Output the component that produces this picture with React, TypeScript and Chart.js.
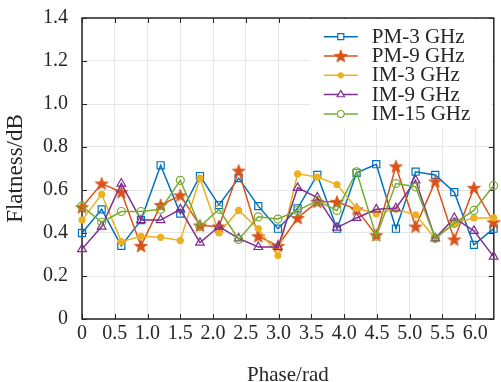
import { useEffect, useRef } from 'react';
import { Chart, registerables } from 'chart.js';
import { drawPoint } from 'chart.js/helpers';

Chart.register(...registerables);

// Phase samples in rad, 22 points over one period
const phase = [0, 0.3, 0.6, 0.9, 1.2, 1.5, 1.8, 2.09, 2.39, 2.69, 2.99, 3.29, 3.59, 3.89, 4.19, 4.49, 4.79, 5.09, 5.39, 5.68, 5.98, 6.28];

// Flatness in dB for each modulation / frequency
const pm3GHz = [0.40, 0.51, 0.34, 0.46, 0.715, 0.49, 0.665, 0.53, 0.655, 0.525, 0.42, 0.515, 0.67, 0.42, 0.68, 0.72, 0.42, 0.685, 0.67, 0.59, 0.345, 0.42];
const pm9GHz = [0.52, 0.63, 0.59, 0.34, 0.53, 0.575, 0.435, 0.43, 0.69, 0.385, 0.34, 0.47, 0.545, 0.545, 0.51, 0.39, 0.71, 0.43, 0.64, 0.37, 0.61, 0.45];
const im3GHz = [0.46, 0.58, 0.36, 0.385, 0.38, 0.365, 0.655, 0.40, 0.505, 0.42, 0.295, 0.675, 0.66, 0.625, 0.515, 0.49, 0.51, 0.485, 0.375, 0.445, 0.47, 0.47];
const im9GHz = [0.325, 0.43, 0.63, 0.46, 0.46, 0.51, 0.355, 0.43, 0.375, 0.335, 0.335, 0.61, 0.565, 0.425, 0.47, 0.51, 0.515, 0.645, 0.375, 0.47, 0.41, 0.29];
const im15GHz = [0.525, 0.45, 0.50, 0.50, 0.51, 0.645, 0.43, 0.51, 0.37, 0.475, 0.465, 0.505, 0.55, 0.505, 0.685, 0.385, 0.63, 0.615, 0.375, 0.445, 0.505, 0.62];

const seriesNames = ['PM-3 GHz', 'PM-9 GHz', 'IM-3 GHz', 'IM-9 GHz', 'IM-15 GHz'];

const xTickValues = [0, 0.5, 1.0, 1.5, 2.0, 2.5, 3.0, 3.5, 4.0, 4.5, 5.0, 5.5, 6.0];
const yTickValues = [0, 0.2, 0.4, 0.6, 0.8, 1.0, 1.2, 1.4];

const X_MAX = 6.2832;
const Y_MAX = 1.4;

const SERIF = '"Liberation Serif", "Times New Roman", Times, serif';
const INK = '#262626';

function starImage(color: string, outer: number, inner: number) {
  const size = 16;
  const c = document.createElement('canvas');
  c.width = size;
  c.height = size;
  const g = c.getContext('2d')!;
  const cx = size / 2;
  const cy = size / 2 + 0.6;
  g.beginPath();
  for (let i = 0; i < 10; i++) {
    const r = i % 2 === 0 ? outer : inner;
    const a = -Math.PI / 2 + (i * Math.PI) / 5;
    const px = cx + r * Math.cos(a);
    const py = cy + r * Math.sin(a);
    if (i === 0) g.moveTo(px, py);
    else g.lineTo(px, py);
  }
  g.closePath();
  g.fillStyle = color;
  g.fill();
  g.strokeStyle = color;
  g.lineWidth = 0.8;
  g.stroke();
  return c;
}

type Marker = { style: any; radius: number; fill: boolean };

function buildSeries() {
  const colors = ['#0072BD', '#D95319', '#EDB120', '#7E2F8E', '#77AC30'];
  const values = [pm3GHz, pm9GHz, im3GHz, im9GHz, im15GHz];
  const markers: Marker[] = [
    { style: 'rect', radius: 5, fill: false },
    { style: starImage(colors[1], 6.8, 2.8), radius: 6, fill: true },
    { style: 'circle', radius: 3, fill: true },
    { style: 'triangle', radius: 5, fill: false },
    { style: 'circle', radius: 4, fill: false },
  ];
  return seriesNames.map((name, i) => ({ name, color: colors[i], values: values[i], marker: markers[i] }));
}

export default function App() {
  const ref = useRef<HTMLCanvasElement>(null);

  useEffect(() => {
    const series = buildSeries();

    // Box around the plot with inward ticks on all four sides
    const framePlugin = {
      id: 'frameBox',
      beforeDatasetsDraw(chart: any) {
        const { ctx, chartArea: a, scales } = chart;
        const len = 5;
        ctx.save();
        ctx.strokeStyle = INK;
        ctx.lineWidth = 1;
        ctx.beginPath();
        for (const v of xTickValues) {
          const px = Math.round(scales.x.getPixelForValue(v)) + 0.5;
          ctx.moveTo(px, a.bottom);
          ctx.lineTo(px, a.bottom - len);
          ctx.moveTo(px, a.top);
          ctx.lineTo(px, a.top + len);
        }
        for (const v of yTickValues) {
          const py = Math.round(scales.y.getPixelForValue(v)) + 0.5;
          ctx.moveTo(a.left, py);
          ctx.lineTo(a.left + len, py);
          ctx.moveTo(a.right, py);
          ctx.lineTo(a.right - len, py);
        }
        ctx.stroke();
        ctx.lineWidth = 1.5;
        ctx.strokeRect(a.left, a.top, a.right - a.left, a.bottom - a.top);
        ctx.restore();
      },
    };

    // Legend with line sample and marker, boxed in the upper right corner
    const legendPlugin = {
      id: 'lineLegend',
      afterDatasetsDraw(chart: any) {
        const { ctx, chartArea: a } = chart;
        const boxL = a.right - 184;
        const boxT = a.top + 1;
        const boxR = a.right - 1;
        const boxB = a.top + 110;
        ctx.save();
        ctx.fillStyle = '#ffffff';
        ctx.fillRect(boxL, boxT, boxR - boxL, boxB - boxT);
        ctx.font = `21px ${SERIF}`;
        ctx.textBaseline = 'middle';
        ctx.textAlign = 'left';
        series.forEach((s, i) => {
          const y = a.top + 18.7 + i * 19.3;
          const x0 = boxL + 14;
          const x1 = boxL + 48;
          ctx.strokeStyle = s.color;
          ctx.lineWidth = 1.5;
          ctx.beginPath();
          ctx.moveTo(x0, y);
          ctx.lineTo(x1, y);
          ctx.stroke();
          ctx.fillStyle = s.marker.fill ? s.color : '#ffffff';
          ctx.strokeStyle = s.color;
          ctx.lineWidth = 1.2;
          drawPoint(ctx, { pointStyle: s.marker.style, radius: s.marker.radius * 0.85, rotation: 0, borderWidth: 1.2 } as any, (x0 + x1) / 2, y);
          ctx.fillStyle = INK;
          ctx.fillText(s.name, boxL + 62, y + 0.5);
        });
        ctx.restore();
      },
    };

    const chart = new Chart(ref.current!, {
      type: 'line',
      data: {
        datasets: series.map((s, i) => ({
          label: s.name,
          data: phase.map((x, k) => ({ x, y: s.values[k] })),
          borderColor: s.color,
          backgroundColor: s.color,
          borderWidth: 1.5,
          pointStyle: s.marker.style,
          pointRadius: s.marker.radius,
          pointBorderWidth: 1.2,
          pointBorderColor: s.color,
          pointBackgroundColor: s.marker.fill ? s.color : 'rgba(0,0,0,0)',
          tension: 0,
          clip: false as any,
          order: series.length - i,
        })),
      },
      options: {
        responsive: false,
        animation: false,
        events: [],
        layout: { padding: { left: 0, right: 4, top: 18, bottom: 0 } },
        plugins: {
          legend: { display: false },
          tooltip: { enabled: false },
        },
        scales: {
          x: {
            type: 'linear',
            min: 0,
            max: X_MAX,
            afterBuildTicks: (scale: any) => {
              scale.ticks = xTickValues.map((value) => ({ value }));
            },
            afterFit: (scale: any) => {
              scale.height = 63;
              scale.paddingLeft = 0;
              scale.paddingRight = 0;
              scale.paddingTop = 0;
              scale.paddingBottom = 0;
            },
            ticks: {
              autoSkip: false,
              maxRotation: 0,
              minRotation: 0,
              padding: 3,
              color: INK,
              font: { family: SERIF, size: 20 },
              callback: (v: any) => (Number(v) === 0 ? '0' : Number(v).toFixed(1)),
            },
            grid: { color: '#e6e6e6', lineWidth: 1, drawTicks: false },
            border: { display: false },
            title: {
              display: true,
              text: 'Phase/rad',
              color: INK,
              font: { family: SERIF, size: 21 },
              padding: { top: 0, bottom: -6 },
            },
          },
          y: {
            type: 'linear',
            min: 0,
            max: Y_MAX,
            afterBuildTicks: (scale: any) => {
              scale.ticks = yTickValues.map((value) => ({ value }));
            },
            afterFit: (scale: any) => {
              scale.width = 82;
              scale.paddingLeft = 0;
              scale.paddingRight = 0;
              scale.paddingTop = 0;
              scale.paddingBottom = 0;
            },
            ticks: {
              padding: 14,
              color: INK,
              font: { family: SERIF, size: 20 },
              callback: (v: any) => (Number(v) === 0 ? '0' : Number(v).toFixed(1)),
            },
            grid: { color: '#e6e6e6', lineWidth: 1, drawTicks: false },
            border: { display: false },
            title: {
              display: true,
              text: 'Flatness/dB',
              color: INK,
              font: { family: SERIF, size: 23 },
              padding: { top: 2, bottom: 0 },
            },
          },
        },
      },
      plugins: [framePlugin, legendPlugin],
    } as any);

    return () => chart.destroy();
  }, []);

  return (
    <div style={{ position: 'absolute', left: 0, top: 0, width: 501, height: 382, background: '#ffffff' }}>
      <canvas ref={ref} width={501} height={382} style={{ display: 'block', width: 501, height: 382 }} />
    </div>
  );
}
